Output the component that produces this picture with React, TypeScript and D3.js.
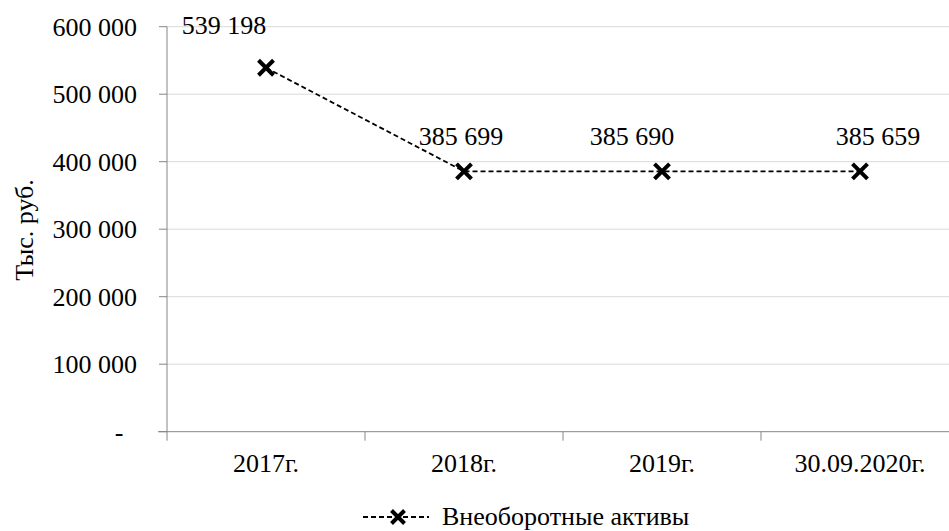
import React from "react";
import { scaleBand, scaleLinear, line } from "d3";

const categories = ["2017г.", "2018г.", "2019г.", "30.09.2020г."];
const values = [539198, 385699, 385690, 385659];
const yTicks = [0, 100000, 200000, 300000, 400000, 500000, 600000];
const seriesName = "Внеоборотные активы";
const yTitle = "Тыс. руб.";

const W = 949;
const H = 531;
const FONT = "Liberation Serif";
const FS = 26;

const fmt = (v: number) =>
  v === 0 ? "-" : v.toString().replace(/\B(?=(\d{3})+(?!\d))/g, " ");

// label nudges, the original has them moved around by hand
const labelShift = [
  [-42, -43],
  [-3, -35],
  [-30, -35],
  [18, -35],
];

const txt = { fontFamily: FONT, fontSize: FS, fill: "#000" };

const Cross = ({ x, y, r = 7.5 }: { x: number; y: number; r?: number }) => (
  <path
    d={`M${x - r},${y - r}L${x + r},${y + r}M${x - r},${y + r}L${x + r},${y - r}`}
    stroke="#000"
    strokeWidth={4}
    fill="none"
  />
);

export default function App() {
  const x = scaleBand().domain(categories).range([167, 959]).padding(0);
  const y = scaleLinear().domain([0, 600000]).range([431.7, 26.7]);
  const cx = (c: string) => x(c)! + x.bandwidth() / 2;

  const path = line<number>()
    .x((_, i) => cx(categories[i]))
    .y((d) => y(d))(values);

  return (
    <svg
      width={W}
      height={H}
      style={{ position: "absolute", left: 0, top: 0, background: "#fff", fontFamily: FONT }}
    >
      {/* grid */}
      {yTicks.slice(1).map((t) => (
        <line key={t} x1={167} x2={W} y1={y(t)} y2={y(t)} stroke="#d9d9d9" strokeWidth={1} />
      ))}
      {/* y axis */}
      <line x1={167} x2={167} y1={y(600000)} y2={y(0)} stroke="#868686" />
      {yTicks.map((t) => (
        <g key={t}>
          <line x1={159} x2={167} y1={y(t)} y2={y(t)} stroke="#868686" />
          <text
            x={t === 0 ? 119 : 137}
            y={y(t)}
            dy="0.35em"
            textAnchor={t === 0 ? "middle" : "end"}
            style={txt}
          >
            {fmt(t)}
          </text>
        </g>
      ))}
      {/* x axis */}
      <line x1={158} x2={W} y1={y(0)} y2={y(0)} stroke="#868686" />
      {categories.map((c) => (
        <g key={c}>
          <line x1={x(c)!} x2={x(c)!} y1={y(0)} y2={y(0) + 9} stroke="#868686" />
          <text x={cx(c)} y={472} textAnchor="middle" style={txt}>
            {c}
          </text>
        </g>
      ))}
      <text transform={`translate(33,230) rotate(-90)`} textAnchor="middle" style={txt}>
        {yTitle}
      </text>

      {/* series */}
      <path d={path!} fill="none" stroke="#000" strokeWidth={1.8} strokeDasharray="5,3" />
      {values.map((v, i) => (
        <Cross key={i} x={cx(categories[i])} y={y(v)} />
      ))}
      {values.map((v, i) => (
        <text
          key={"l" + i}
          x={cx(categories[i]) + labelShift[i][0]}
          y={y(v) + labelShift[i][1]}
          dy="0.35em"
          textAnchor="middle"
          style={txt}
        >
          {fmt(v)}
        </text>
      ))}

      {/* legend */}
      <line x1={363} x2={429} y1={517} y2={517} stroke="#000" strokeWidth={2} strokeDasharray="5,3" />
      <Cross x={398} y={517} r={6.5} />
      <text x={442} y={525} style={txt}>
        {seriesName}
      </text>
    </svg>
  );
}
